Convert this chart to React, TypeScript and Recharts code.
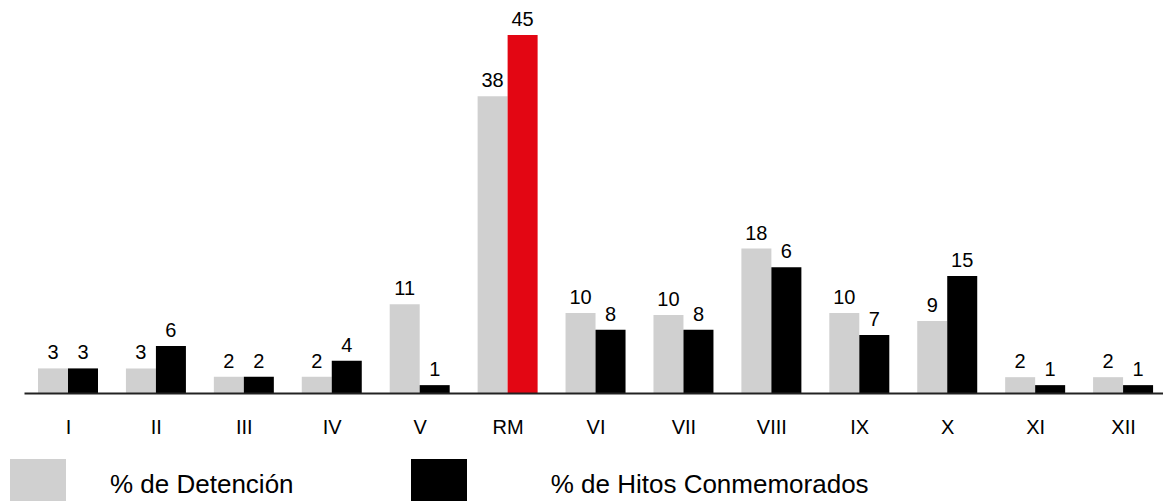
import React from 'react';
import { BarChart, Bar, XAxis, YAxis, LabelList, Cell, Legend } from 'recharts';

const categories = ['I', 'II', 'III', 'IV', 'V', 'RM', 'VI', 'VII', 'VIII', 'IX', 'X', 'XI', 'XII'];
const detencion = [3.15, 3.15, 2.1, 2.1, 11.2, 37.3, 10.1, 9.85, 18.2, 10.1, 9.1, 2.05, 2.05];
const hitos = [3.15, 5.95, 2.1, 4.1, 1.05, 45, 8.0, 8.0, 15.85, 7.35, 14.75, 1.05, 1.05];
const detencionLabels = ['3', '3', '2', '2', '11', '38', '10', '10', '18', '10', '9', '2', '2'];
const hitosLabels = ['3', '6', '2', '4', '1', '45', '8', '8', '6', '7', '15', '1', '1'];
const seriesNames = ['% de Detención', '% de Hitos Conmemorados'];

const data = categories.map((c, i) => ({
  cat: c,
  det: detencion[i],
  hit: hitos[i],
  detLabel: detencionLabels[i],
  hitLabel: hitosLabels[i],
}));

const FONT = "'Liberation Sans', Arial, sans-serif";
const GREY = '#d0d0d0';
const BLACK = '#000000';
const RED = '#e30613';

const LegendContent = () => (
  <div style={{ position: 'relative', width: 1163, height: 60, fontFamily: FONT }}>
    <div style={{ position: 'absolute', left: 9.5, top: 0, width: 56, height: 56, background: GREY }} />
    <div style={{ position: 'absolute', left: 110, top: 12.3, fontSize: 26, lineHeight: '26px', color: '#000', whiteSpace: 'nowrap' }}>
      {seriesNames[0]}
    </div>
    <div style={{ position: 'absolute', left: 411, top: 0, width: 56, height: 56, background: BLACK }} />
    <div style={{ position: 'absolute', left: 550.7, top: 12.3, fontSize: 26, lineHeight: '26px', color: '#000', whiteSpace: 'nowrap' }}>
      {seriesNames[1]}
    </div>
  </div>
);

export default function App() {
  return (
    <div style={{ position: 'fixed', left: 0, top: 0, width: 1163, height: 501, overflow: 'hidden', background: '#fff' }}>
      <BarChart
        width={1175}
        height={501}
        data={data}
        margin={{ top: 35, right: 7.5, left: 24.5, bottom: 77.5 }}
        barCategoryGap={13.5}
        barGap={0}
      >
        <YAxis hide domain={[0, 45]} />
        <XAxis
          dataKey="cat"
          height={30}
          tickLine={false}
          tickSize={0}
          tickMargin={26}
          axisLine={{ stroke: '#222', strokeWidth: 2 }}
          tick={{ fill: '#000', fontSize: 20, fontFamily: FONT }}
          interval={0}
        />
        <Legend
          layout="vertical"
          align="center"
          verticalAlign="middle"
          content={<LegendContent />}
          wrapperStyle={{ position: 'absolute', left: 0, top: 459, width: 1163, height: 60 }}
        />
        <Bar dataKey="det" name={seriesNames[0]} fill={GREY} isAnimationActive={false}>
          <LabelList dataKey="detLabel" position="top" offset={9} fill="#000" fontSize={20} fontFamily={FONT} />
        </Bar>
        <Bar dataKey="hit" name={seriesNames[1]} fill={BLACK} isAnimationActive={false}>
          {data.map((d, i) => (
            <Cell key={i} fill={d.cat === 'RM' ? RED : BLACK} />
          ))}
          <LabelList dataKey="hitLabel" position="top" offset={9} fill="#000" fontSize={20} fontFamily={FONT} />
        </Bar>
      </BarChart>
    </div>
  );
}
